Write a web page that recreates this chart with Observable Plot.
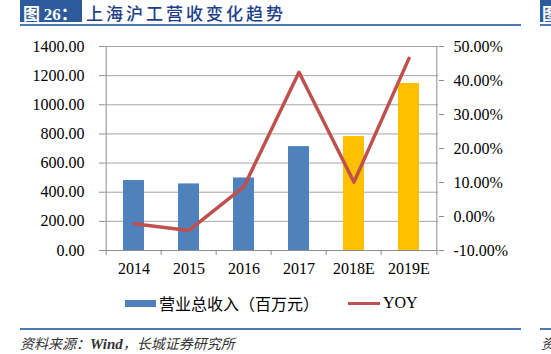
<!DOCTYPE html>
<html><head><meta charset="utf-8">
<script src="https://cdn.jsdelivr.net/npm/d3@7"></script>
<script src="https://cdn.jsdelivr.net/npm/@observablehq/plot@0.6"></script>
<style>
html,body{margin:0;padding:0;background:#fff;width:551px;height:354px;overflow:hidden;position:relative;}
.abs{position:absolute;white-space:nowrap;}
#chart{position:absolute;left:0;top:0;}
.cjk{font-family:"Noto Sans CJK SC",sans-serif;}
.serif{font-family:"Liberation Serif","Times New Roman",serif;}
</style></head>
<body>
<div id="chart"></div>
<div class="abs" style="left:20px;top:0;width:62px;height:22px;background:#2C5A9A;"></div>
<div class="abs cjk" style="left:23px;top:0;color:#fff;font-size:17px;font-weight:bold;line-height:normal;">图 <span class="serif">26</span>：</div>
<div class="abs cjk" style="left:86px;top:0;color:#1F3F8A;font-size:17px;line-height:normal;letter-spacing:3px;font-weight:500;">上海沪工营收变化趋势</div>
<div class="abs" style="left:20px;top:24px;width:501px;height:2px;background:#4A78B5;"></div>
<div class="abs" style="left:540px;top:0;width:20px;height:22px;background:#2C5A9A;"></div>
<div class="abs cjk" style="left:542px;top:0;color:#fff;font-size:17px;font-weight:bold;line-height:normal;">图</div>
<div class="abs" style="left:540px;top:24px;width:20px;height:2px;background:#4A78B5;"></div>

<div class="abs" id="legend" style="left:0;top:292px;height:22px;width:551px;">
  <div class="abs" style="left:125px;top:8px;width:31px;height:7px;background:#4F81BD;"></div>
  <div class="abs cjk" style="left:159px;top:0;font-size:16px;line-height:22px;color:#000;">营业总收入（百万元）</div>
  <div class="abs" style="left:348px;top:10px;width:32px;height:3px;background:#C0504D;"></div>
  <div class="abs serif" style="left:383px;top:0;font-size:16px;line-height:22px;color:#000;">YOY</div>
</div>

<div class="abs" style="left:20px;top:328px;width:501px;height:2px;background:#4A78B5;"></div>
<div class="abs" style="left:540px;top:328px;width:20px;height:2px;background:#4A78B5;"></div>
<div class="abs cjk" style="left:20px;top:333px;font-size:14px;line-height:normal;color:#333;font-style:italic;">资料来源：<b class="serif" style="font-size:15px;">Wind</b>，长城证券研究所</div>
<div class="abs cjk" style="left:541px;top:333px;font-size:14px;line-height:normal;color:#333;font-style:italic;">资</div>

<script>
// Data
const years = ["2014", "2015", "2016", "2017", "2018E", "2019E"];
const revenue = [480, 457, 498, 713, 782, 1147];       // 营业总收入（百万元）
const yoy = [-2.1, -4.1, 8.8, 42.4, 10.1, 46.5];        // YOY, %
const leftTicks = [0, 200, 400, 600, 800, 1000, 1200, 1400];
const rightTicks = [-10, 0, 10, 20, 30, 40, 50];

const data = years.map((year, i) => ({year, revenue: revenue[i], yoy: yoy[i]}));

const W = 551, H = 290, ML = 104, MR = 113, MT = 46, MB = 40;
const step = (W - ML - MR) / years.length;
const leftMax = 1400, rMin = -10, rMax = 50;
const toLeft = p => (p - rMin) / (rMax - rMin) * leftMax;
const fromLeft = v => v / leftMax * (rMax - rMin) + rMin;

const BLUE = "#4F81BD", GOLD = "#FFC000", RED = "#C0504D", GRID = "#A6A6A6", AX = "#8C8C8C";
const font = "Liberation Serif, Times New Roman, serif";

const chart = Plot.plot({
  width: W, height: H,
  marginLeft: ML, marginRight: MR, marginTop: MT, marginBottom: MB,
  style: {fontFamily: font, fontSize: "16px", background: "#fff", color: "#000"},
  x: {type: "band", domain: years, paddingInner: 0, paddingOuter: 0, label: null},
  y: {domain: [0, leftMax], label: null},
  marks: [
    Plot.gridY(leftTicks, {stroke: GRID, strokeOpacity: 1, strokeWidth: 1}),
    Plot.barY(data, {x: "year", y: "revenue", fill: d => d.year.endsWith("E") ? GOLD : BLUE, insetLeft: 17, insetRight: 17}),
    Plot.ruleX([years[0]], {dx: -step / 2, y1: 0, y2: leftMax, stroke: AX}),
    Plot.ruleX([years[years.length - 1]], {dx: step / 2, y1: 0, y2: leftMax, stroke: AX}),
    Plot.ruleY([0], {stroke: AX}),
    Plot.lineY(data, {x: "year", y: d => toLeft(d.yoy), stroke: RED, strokeWidth: 3.5}),
    Plot.axisY(leftTicks, {anchor: "left", tickSize: 5, tickPadding: 15, tickFormat: d => d.toFixed(2), stroke: AX, fill: "#000", fontSize: 16, label: null}),
    Plot.axisY(rightTicks.map(toLeft), {anchor: "right", tickSize: 5, tickPadding: 10, tickFormat: d => fromLeft(d).toFixed(2) + "%", stroke: AX, fill: "#000", fontSize: 16, label: null}),
    Plot.axisX(years, {anchor: "bottom", tickSize: 0, tickPadding: 12, fill: "#000", fontSize: 16, label: null}),
    Plot.axisX(years, {anchor: "bottom", tickSize: 5, tickFormat: () => "", dx: -step / 2, stroke: AX, label: null}),
    Plot.axisX([years[years.length - 1]], {anchor: "bottom", tickSize: 5, tickFormat: () => "", dx: step / 2, stroke: AX, label: null})
  ]
});
document.getElementById("chart").appendChild(chart);
</script>
</body></html>
